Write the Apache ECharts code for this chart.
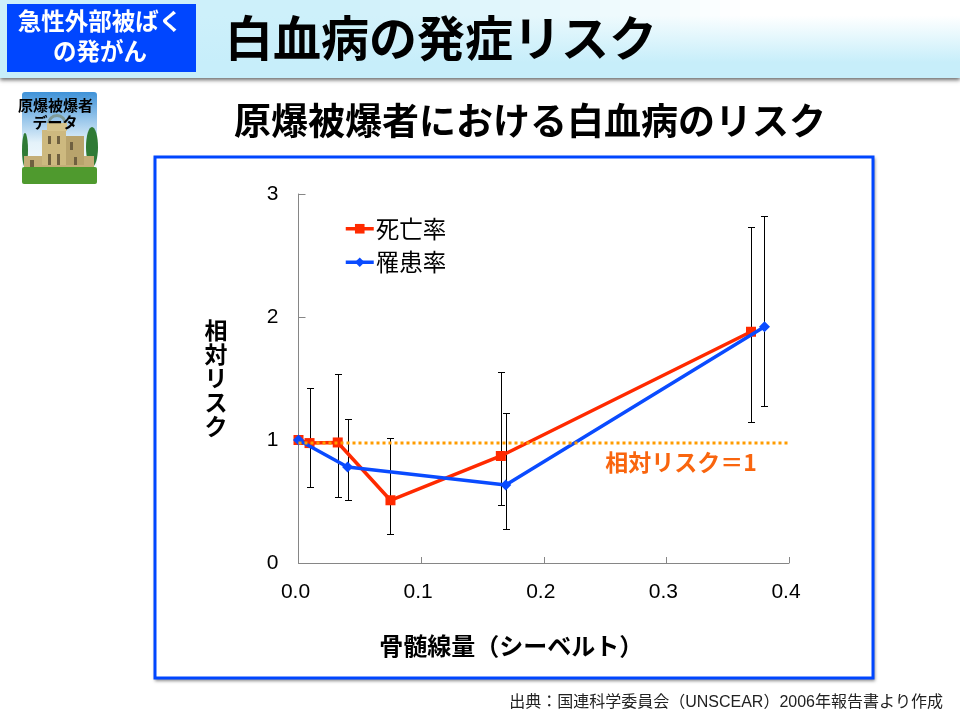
<!DOCTYPE html>
<html>
<head>
<meta charset="utf-8">
<style>
html, body { margin: 0; padding: 0; background: #fff; }
#chart { width: 960px; height: 720px; }
</style>
<script src="https://cdn.jsdelivr.net/npm/echarts@6/dist/echarts.min.js"></script>
</head>
<body>
<div id="chart"></div>
<script>
var jpFont = '"Noto Sans CJK JP", sans-serif';
var latinFont = '"Liberation Sans", "Noto Sans CJK JP", sans-serif';

// 死亡率
var deathDose = [0, 0.009, 0.032, 0.075, 0.165, 0.369];
var deathRisk = [1.0, 0.975, 0.98, 0.51, 0.87, 1.88];
var deathLow = [null, 0.62, 0.54, 0.235, 0.47, 1.15];
var deathHigh = [null, 1.42, 1.54, 1.02, 1.55, 2.73];

// 罹患率
var incidDose = [0, 0.04, 0.169, 0.38];
var incidRisk = [1.0, 0.78, 0.635, 1.92];
var incidLow = [null, 0.51, 0.275, 1.28];
var incidHigh = [null, 1.17, 1.22, 2.82];

var refDose = [0, 0.4];
var refRisk = [0.975, 0.975];

function zip(a, b) {
    return a.map(function(v, i) { return [v, b[i]]; });
}

function errorRows(dose, low, high) {
    var rows = [];
    dose.forEach(function(d, i) {
        if (low[i] !== null) rows.push([d, low[i], high[i]]);
    });
    return rows;
}

function renderError(params, api) {
    var lo = api.coord([api.value(0), api.value(1)]);
    var hi = api.coord([api.value(0), api.value(2)]);
    // snap to whole pixels so the 1px lines stay black
    var x = Math.round(lo[0]) + 0.5;
    var y1 = Math.round(lo[1]) + 0.5;
    var y2 = Math.round(hi[1]) + 0.5;
    var style = { stroke: '#000', lineWidth: 1, fill: null };
    function seg(x1, a, x2, b) {
        return { type: 'line', shape: { x1: x1, y1: a, x2: x2, y2: b }, style: style };
    }
    return {
        type: 'group',
        children: [
            seg(x, y1, x, y2),
            seg(x - 3.5, y1, x + 3.5, y1),
            seg(x - 3.5, y2, x + 3.5, y2)
        ]
    };
}

// header background, the pale top fades to white towards the right
var headerCols = [];
for (var cx = 0; cx < 960; cx += 20) {
    var t = Math.max(0, Math.min(1, (cx - 320) / 420));
    var r = Math.round(205 + 50 * t), g = Math.round(240 + 15 * t), b = Math.round(250 + 5 * t);
    headerCols.push({
        type: 'rect',
        z: -5,
        shape: { x: cx, y: 0, width: 21, height: 78 },
        style: {
            fill: new echarts.graphic.LinearGradient(0, 0, 0, 1, [
                { offset: 0, color: 'rgb(' + r + ',' + g + ',' + b + ')' },
                { offset: 0.2, color: 'rgb(' + r + ',' + g + ',' + b + ')' },
                { offset: 0.8, color: '#c7eefa' },
                { offset: 1, color: '#c7eefa' }
            ])
        }
    });
}

// small picture of the dome, decoration only
var iconParts = [
    { type: 'rect', shape: { x: 22, y: 92, width: 75, height: 92, r: 3 },
      style: { fill: new echarts.graphic.LinearGradient(0, 0, 0, 1, [
          { offset: 0, color: '#3f92d8' }, { offset: 0.55, color: '#e4f2fa' }, { offset: 1, color: '#ffffff' }]) } },
    { type: 'ellipse', shape: { cx: 25, cy: 150, rx: 3, ry: 17 }, style: { fill: '#2f7a35' } },
    { type: 'ellipse', shape: { cx: 92, cy: 147, rx: 6, ry: 20 }, style: { fill: '#2f7a35' } },
    { type: 'rect', shape: { x: 24, y: 156, width: 70, height: 11 }, style: { fill: '#c4ae78' } },
    { type: 'rect', shape: { x: 42, y: 130, width: 24, height: 35 }, style: { fill: '#cdb97f' } },
    { type: 'rect', shape: { x: 66, y: 136, width: 18, height: 29 }, style: { fill: '#b8a36c' } },
    { type: 'sector', shape: { cx: 57, cy: 124, r: 10, r0: 7, startAngle: Math.PI, endAngle: 0 }, style: { fill: '#7f9a98' } },
    { type: 'rect', shape: { x: 47, y: 123, width: 20, height: 8 }, style: { fill: '#d6c48c' } },
    { type: 'rect', shape: { x: 48, y: 136, width: 3, height: 8 }, style: { fill: '#6f6040' } },
    { type: 'rect', shape: { x: 57, y: 136, width: 3, height: 8 }, style: { fill: '#6f6040' } },
    { type: 'rect', shape: { x: 70, y: 142, width: 3, height: 8 }, style: { fill: '#6f6040' } },
    { type: 'rect', shape: { x: 48, y: 154, width: 3, height: 11 }, style: { fill: '#6f6040' } },
    { type: 'rect', shape: { x: 57, y: 154, width: 3, height: 11 }, style: { fill: '#6f6040' } },
    { type: 'rect', shape: { x: 30, y: 160, width: 4, height: 7 }, style: { fill: '#6f6040' } },
    { type: 'rect', shape: { x: 74, y: 157, width: 3, height: 8 }, style: { fill: '#6f6040' } },
    { type: 'rect', shape: { x: 22, y: 167, width: 75, height: 17, r: 2 }, style: { fill: '#4f9a2e' } }
];

function label(text, x, y, size, color, weight, align, font) {
    return {
        type: 'text',
        z: 10,
        style: {
            text: text, x: x, y: y,
            fill: color,
            font: (weight || 'normal') + ' ' + size + 'px ' + (font || jpFont),
            textAlign: align || 'center',
            textVerticalAlign: 'middle'
        }
    };
}

var chart = echarts.init(document.getElementById('chart'), null, { renderer: 'canvas' });

chart.setOption({
    animation: false,
    backgroundColor: '#fff',
    textStyle: { fontFamily: latinFont },
    graphic: { elements: [
        { type: 'rect', z: -6, shape: { x: 0, y: 0, width: 960, height: 78 },
          style: { fill: '#c7eefa', shadowBlur: 4, shadowOffsetY: 2, shadowColor: 'rgba(0,0,0,0.6)' } }
    ].concat(headerCols, iconParts, [
        { type: 'rect', z: -4, shape: { x: 7, y: 4, width: 189, height: 68 }, style: { fill: '#0046ff' } },
        label('急性外部被ばく', 100, 21, 23.5, '#fff', 'bold'),
        label('の発がん', 100, 51, 23.5, '#fff', 'bold'),
        label('白血病の発症リスク', 441, 38, 48, '#000', 'bold'),
        label('原爆被爆者', 55.5, 105, 15, '#000', 'bold'),
        label('データ', 55, 122, 15, '#000', 'bold'),
        label('原爆被爆者における白血病のリスク', 530, 121, 37, '#000', 'bold'),
        // frame: shadow on a plain rect underneath so it only shows outside the border
        { type: 'rect', z: -3, shape: { x: 154, y: 156, width: 720, height: 523 },
          style: { fill: '#fff', shadowBlur: 3, shadowOffsetX: 1, shadowOffsetY: 2, shadowColor: 'rgba(0,0,0,0.45)' } },
        { type: 'rect', z: -2, shape: { x: 155, y: 157, width: 718, height: 521 },
          style: { fill: '#fff', stroke: '#0046ff', lineWidth: 3 } },
        label('相対リスク＝1', 681, 462, 23, '#f9650e', 'bold'),
        label('出典：国連科学委員会（UNSCEAR）2006年報告書より作成', 943, 703, 16, '#222', 'normal', 'right', latinFont)
    ]) },
    grid: { left: 298.5, right: 171, top: 194, bottom: 157, containLabel: false },
    legend: {
        left: 339,
        top: 212,
        orient: 'vertical',
        itemWidth: 28,
        itemHeight: 12,
        itemGap: 10,
        data: ['死亡率', '罹患率'],
        selectedMode: false,
        lineStyle: { width: 3.5 },
        textStyle: { color: '#000', fontSize: 23.5, fontFamily: jpFont, padding: [0, 0, 0, -3] }
    },
    xAxis: {
        type: 'value',
        min: 0,
        max: 0.4,
        interval: 0.1,
        name: '骨髄線量（シーベルト）',
        nameLocation: 'middle',
        nameGap: 71,
        nameTextStyle: { color: '#000', fontSize: 24, fontWeight: 'bold', fontFamily: jpFont, padding: [0, 65, 0, 0] },
        axisLine: { show: true, lineStyle: { color: '#868686', width: 1 } },
        axisTick: { show: true, inside: true, length: 6, lineStyle: { color: '#868686' } },
        splitLine: { show: false },
        axisLabel: {
            color: '#000', fontSize: 21, margin: 19, padding: [0, 6, 0, 0],
            showMinLabel: true, showMaxLabel: true, hideOverlap: false,
            formatter: function(v) { return v.toFixed(1); }
        }
    },
    yAxis: {
        type: 'value',
        min: 0,
        max: 3,
        interval: 1,
        name: '相\n対\nリ\nス\nク',
        nameLocation: 'middle',
        nameRotate: 0,
        nameGap: 71,
        nameTextStyle: { color: '#000', fontSize: 23, fontWeight: 'bold', fontFamily: jpFont, lineHeight: 24, padding: [0, 0, 20, 0] },
        axisLine: { show: true, lineStyle: { color: '#868686', width: 1 } },
        axisTick: { show: true, inside: true, length: 7, lineStyle: { color: '#868686' } },
        splitLine: { show: false },
        axisLabel: { color: '#000', fontSize: 21, margin: 20 }
    },
    series: [
        {
            type: 'custom',
            name: 'errDeath',
            z: 1,
            clip: false,
            renderItem: renderError,
            encode: { x: 0, y: [1, 2] },
            data: errorRows(deathDose, deathLow, deathHigh)
        },
        {
            type: 'custom',
            name: 'errIncid',
            z: 1,
            clip: false,
            renderItem: renderError,
            encode: { x: 0, y: [1, 2] },
            data: errorRows(incidDose, incidLow, incidHigh)
        },
        {
            type: 'line',
            name: '死亡率',
            z: 3,
            clip: false,
            data: zip(deathDose, deathRisk),
            symbol: 'rect',
            symbolSize: 10,
            showAllSymbol: true,
            lineStyle: { color: '#ff2a00', width: 3.5 },
            itemStyle: { color: '#ff2a00' }
        },
        {
            type: 'line',
            name: '罹患率',
            z: 4,
            clip: false,
            data: zip(incidDose, incidRisk),
            symbol: 'diamond',
            symbolSize: 11,
            showAllSymbol: true,
            lineStyle: { color: '#0a4bff', width: 3.5 },
            itemStyle: { color: '#0a4bff' }
        },
        {
            type: 'line',
            name: 'ref',
            z: 5,
            clip: false,
            data: zip(refDose, refRisk),
            symbol: 'none',
            lineStyle: { color: '#ff9c00', width: 3, type: [3, 3] }
        }
    ]
});
</script>
</body>
</html>
